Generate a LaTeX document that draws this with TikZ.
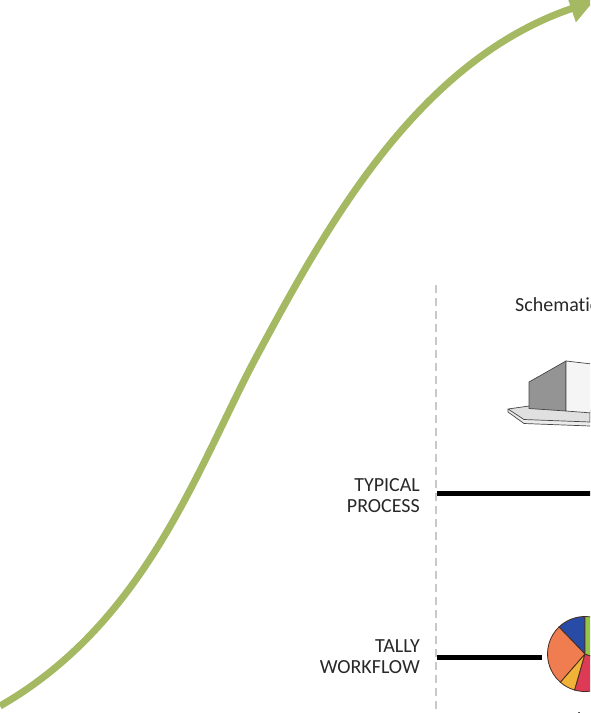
\documentclass[tikz,border=0pt]{standalone}
\usepackage{fontspec}
\setmainfont{Carlito}[Ligatures=NoCommon]
\usetikzlibrary{arrows.meta}

\definecolor{curvegreen}{RGB}{164,185,98}
\definecolor{labelgray}{RGB}{40,40,40}
\definecolor{dashgray}{RGB}{200,200,200}
\definecolor{edgegray}{RGB}{70,70,70}
\definecolor{pieedge}{RGB}{70,45,30}
\definecolor{pgreen}{RGB}{150,196,70}
\definecolor{pblue}{RGB}{40,75,165}
\definecolor{porange}{RGB}{240,125,80}
\definecolor{pgold}{RGB}{240,178,55}
\definecolor{pred}{RGB}{220,58,85}

\tikzset{
  rowlabel/.style={font=\fontsize{20}{21}\selectfont, text=labelgray,
                   align=right, inner sep=0pt, anchor=east},
  phasetitle/.style={font=\fontsize{20}{21}\selectfont, text=labelgray,
                     inner sep=0pt},
  rowline/.style={line width=4.5pt, black},
  divider/.style={dashgray, line width=1.3pt, dash pattern=on 8pt off 5pt},
  growth/.style={curvegreen, line width=7pt,
                 -{Triangle[length=24pt, width=27pt]}},
  slice/.style={draw=pieedge, line width=0.8pt},
  facet/.style={draw=edgegray, line width=0.7pt, line join=round}
}

\begin{document}
\begin{tikzpicture}[x=1pt, y=-1pt]
  \useasboundingbox (0,0) rectangle (590,713);
  \clip (0,0) rectangle (590,713);

  % growth curve rising from bottom left to top right
  \coordinate (curveStart) at (0,706);
  \coordinate (curveMid) at (260,350);
  \coordinate (curveEnd) at (594,1);
  \draw[growth] (curveStart) .. controls (150,620) and (200,460) .. (curveMid)
                .. controls (330,220) and (420,60) .. (curveEnd);

  % dashed divider between row labels and the process rows
  \coordinate (divTop) at (436,285);
  \coordinate (divBottom) at (436,713);
  \draw[divider] (divTop) -- (divBottom);

  % phase title
  \node[phasetitle, anchor=base west] (schematic) at (515,311) {Schematic Design};

  % schematic massing model: slab and block
  \fill[black!8] (508,409) -- (508,412) -- (524,423.5) -- (590,426) -- (590,422) -- (524,419.5) -- cycle;
  \draw[facet, fill=black!12] (508,409) -- (529,406) -- (590,410) -- (590,422) -- (524,419.5) -- cycle;
  \draw[facet] (508,409) -- (508,412) -- (524,423.5) -- (590,426);
  \draw[facet, fill=black!42] (529,382) -- (566,361) -- (566,411) -- (529,408.5) -- cycle;
  \draw[facet, fill=black!4] (566,361) -- (592,364) -- (592,413) -- (566,411) -- cycle;

  % row labels
  \node[rowlabel] (typical) at (420,495.2) {TYPICAL\\PROCESS};
  \node[rowlabel] (tally) at (420,657) {TALLY\\WORKFLOW};

  % typical process row
  \coordinate (typStart) at (437,493.5);
  \coordinate (typEnd) at (592,493.5);
  \draw[rowline] (typStart) -- (typEnd);

  % tally workflow row with pie chart
  \node[circle, minimum size=75pt, inner sep=0pt] (pie) at (585,654) {};
  \coordinate (talStart) at (437,657.5);
  \coordinate (talEnd) at (542,657.5);
  \draw[rowline] (talStart) -- (talEnd);

  \begin{scope}[shift={(pie.center)}, y=1pt]
    \filldraw[slice, fill=pblue]   (0,0) -- (90:37.5) arc[start angle=90, end angle=134, radius=37.5] -- cycle;
    \filldraw[slice, fill=porange] (0,0) -- (134:37.5) arc[start angle=134, end angle=229, radius=37.5] -- cycle;
    \filldraw[slice, fill=pgold]   (0,0) -- (229:37.5) arc[start angle=229, end angle=254, radius=37.5] -- cycle;
    \filldraw[slice, fill=pred]    (0,0) -- (254:37.5) arc[start angle=254, end angle=340, radius=37.5] -- cycle;
    \filldraw[slice, fill=pgreen]  (0,0) -- (-20:37.5) arc[start angle=-20, end angle=90, radius=37.5] -- cycle;
  \end{scope}

  % caption under the pie chart
  \node[phasetitle, anchor=base] (analysis) at (578,726) {Analysis};
\end{tikzpicture}
\end{document}
